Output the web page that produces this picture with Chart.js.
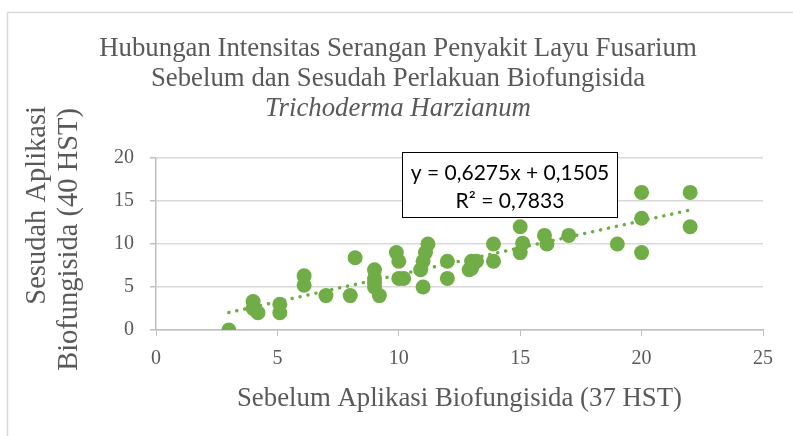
<!DOCTYPE html>
<html>
<head>
<meta charset="utf-8">
<script src="https://cdn.jsdelivr.net/npm/chart.js@4/dist/chart.umd.min.js"></script>
<style>
html,body{margin:0;padding:0;background:#fff;}
#wrap{position:relative;width:793px;height:436px;}
</style>
</head>
<body>
<div id="wrap"><canvas id="c" width="793" height="436"></canvas></div>
<script>
const titleLines = ['Hubungan Intensitas Serangan Penyakit Layu Fusarium', 'Sebelum dan Sesudah Perlakuan Biofungisida', 'Trichoderma Harzianum'];
const xAxisTitle = 'Sebelum Aplikasi Biofungisida (37 HST)';
const yAxisTitleLines = ['Sesudah Aplikasi', 'Biofungisida (40 HST)'];
const xValues = [3, 4, 4, 4.2, 5.1, 5.1, 6.1, 6.1, 7, 8, 8.2, 9, 9, 9, 9, 9.2, 9.9, 10, 10, 10.2, 11.2, 11.1, 11, 10.9, 11, 12, 12, 13, 13, 13.2, 12.9, 13.9, 13.9, 15, 15.1, 15, 16, 16.1, 17, 19, 20, 20, 20, 22, 22];
const yValues = [0, 3.3, 2.5, 2, 3, 2, 6.3, 5.2, 4, 4, 8.4, 7, 6, 5.5, 5, 4, 9, 8, 6, 6, 10, 9, 8, 7, 5, 8, 6, 8, 7.2, 8, 7, 10, 8, 12, 10.1, 9, 11, 10, 11, 10, 16, 13, 9, 16, 12];
const trendSlope = 0.6275;
const trendIntercept = 0.1505;
const equationLines = ['y = 0,6275x + 0,1505', 'R\u00b2 = 0,7833'];
const xTicks = [0, 5, 10, 15, 20, 25];
const yTicks = [0, 5, 10, 15, 20];

const points = xValues.map((x, i) => ({x: x, y: yValues[i]}));
const xMin = Math.min(...xValues), xMax = Math.max(...xValues);
const trend = [xMin, xMax].map(x => ({x: x, y: trendSlope * x + trendIntercept}));

const GREEN = '#70ad47';
const TXT = '#595959';
const SERIF = '"Liberation Serif", "Times New Roman", serif';

const decor = {
  id: 'decor',
  beforeDraw(chart) {
    const ctx = chart.ctx;
    ctx.save();
    ctx.strokeStyle = '#d9d9d9';
    ctx.lineWidth = 1.5;
    ctx.strokeRect(7.5, 12.5, 900, 600);
    ctx.restore();
  },
  afterDraw(chart) {
    const ctx = chart.ctx;
    const ca = chart.chartArea;
    ctx.save();
    ctx.fillStyle = TXT;
    ctx.textAlign = 'center';
    ctx.textBaseline = 'alphabetic';
    // title
    const tx = 398;
    ctx.font = '26.8px ' + SERIF;
    ctx.fillText(titleLines[0], tx, 56);
    ctx.fillText(titleLines[1], tx, 86);
    ctx.font = 'italic 26.8px ' + SERIF;
    ctx.fillText(titleLines[2], tx, 116);
    // x axis title
    ctx.font = '26.8px ' + SERIF;
    ctx.fillText(xAxisTitle, (ca.left + ca.right) / 2, 406);
    // y axis title (lines end aligned at the top)
    ctx.save();
    ctx.rotate(-Math.PI / 2);
    ctx.textBaseline = 'middle';
    ctx.textAlign = 'right';
    ctx.font = '28.5px ' + SERIF;
    ctx.fillText(yAxisTitleLines[0], -106, 38);
    ctx.fillText(yAxisTitleLines[1], -108, 70);
    ctx.restore();
    // equation box
    const bx = 402.5, by = 152.5, bw = 215, bh = 65;
    ctx.fillStyle = '#fff';
    ctx.fillRect(bx, by, bw, bh);
    ctx.strokeStyle = '#000';
    ctx.lineWidth = 1;
    ctx.strokeRect(bx, by, bw, bh);
    ctx.fillStyle = '#000';
    ctx.font = '21px Lato, "Open Sans", sans-serif';
    ctx.textBaseline = 'middle';
    ctx.fillText(equationLines[0], bx + bw / 2, 173);
    ctx.fillText(equationLines[1], bx + bw / 2, 201);
    ctx.restore();
  }
};

new Chart(document.getElementById('c'), {
  type: 'scatter',
  data: {
    datasets: [
      {
        label: 'trend',
        type: 'line',
        data: trend,
        borderColor: GREEN,
        borderWidth: 3.5,
        borderDash: [0.1, 8],
        borderCapStyle: 'round',
        pointRadius: 0,
        fill: false,
        order: 0
      },
      {
        label: 'data',
        data: points,
        backgroundColor: GREEN,
        borderWidth: 0,
        pointRadius: 7.5,
        pointHoverRadius: 7.5,
        order: 1
      }
    ]
  },
  plugins: [decor],
  options: {
    responsive: false,
    animation: false,
    events: [],
    layout: {padding: {top: 158, right: 30, left: 0, bottom: 0}},
    plugins: {legend: {display: false}, title: {display: false}, tooltip: {enabled: false}},
    scales: {
      x: {
        type: 'linear',
        min: 0, max: 25,
        afterBuildTicks(s) { s.ticks = xTicks.map(v => ({value: v})); },
        afterFit(s) { s.height = 106; },
        grid: {drawOnChartArea: false, drawTicks: true, tickLength: 6, tickColor: '#bfbfbf', color: '#bfbfbf'},
        border: {color: '#bfbfbf', width: 1.5},
        ticks: {color: TXT, font: {family: SERIF, size: 20}, padding: 11, maxRotation: 0}
      },
      y: {
        type: 'linear',
        min: 0, max: 20,
        afterBuildTicks(s) { s.ticks = yTicks.map(v => ({value: v})); },
        afterFit(s) { s.width = 156; },
        grid: {color: '#d9d9d9', lineWidth: 1.5, drawTicks: true, tickLength: 6, tickColor: '#bfbfbf'},
        border: {color: '#bfbfbf', width: 1.5},
        ticks: {color: TXT, font: {family: SERIF, size: 20}, padding: 16}
      }
    }
  }
});
</script>
</body>
</html>
